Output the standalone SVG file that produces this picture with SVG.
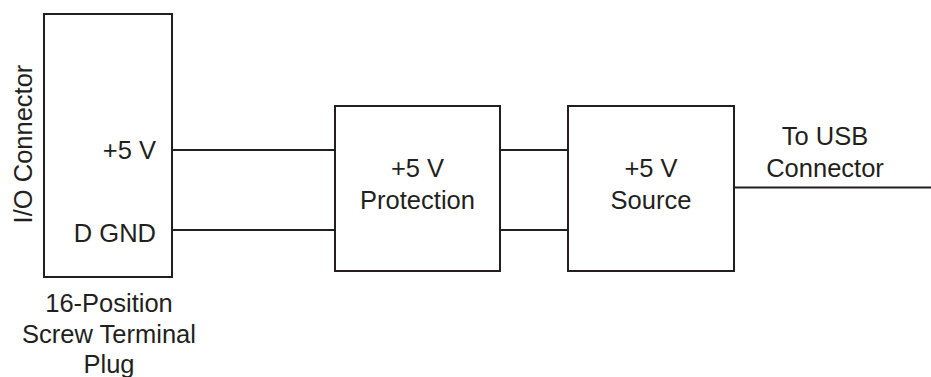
<svg xmlns="http://www.w3.org/2000/svg" width="931" height="377" viewBox="0 0 931 377">
<style>
.box{fill:#fff;stroke:#231f20;stroke-width:2}
.wire{fill:none;stroke:#231f20;stroke-width:2}
text{font-family:"Liberation Sans",Arial,Helvetica,sans-serif;font-size:25.5px;fill:#231f20}
.m{text-anchor:middle}
.e{text-anchor:end}
</style>
<rect width="931" height="377" fill="#fff"/>
<g id="connectors">
<line class="wire" x1="172" y1="150" x2="335" y2="150"/>
<line class="wire" x1="172" y1="230" x2="335" y2="230"/>
<line class="wire" x1="500" y1="150" x2="568" y2="150"/>
<line class="wire" x1="500" y1="230" x2="568" y2="230"/>
<line class="wire" x1="734" y1="187.5" x2="931" y2="187.5"/>
</g>
<g id="terminal">
<rect class="box" x="44" y="14" width="128" height="263"/>
<text class="e" x="156" y="159">+5 V</text>
<text class="e" x="156" y="242">D GND</text>
<text class="m" transform="translate(31.5,144) rotate(-90)">I/O Connector</text>
<text class="m" x="109" y="312">16-Position</text>
<text class="m" x="109" y="343">Screw Terminal</text>
<text class="m" x="109" y="373">Plug</text>
</g>
<g id="protection">
<rect class="box" x="335" y="106" width="165" height="165"/>
<text class="m" x="417.5" y="177">+5 V</text>
<text class="m" x="417.5" y="209">Protection</text>
</g>
<g id="source">
<rect class="box" x="568" y="106" width="166" height="165"/>
<text class="m" x="651" y="177">+5 V</text>
<text class="m" x="651" y="209">Source</text>
</g>
<g id="usb">
<text class="m" x="825" y="145">To USB</text>
<text class="m" x="825" y="177">Connector</text>
</g>
</svg>
